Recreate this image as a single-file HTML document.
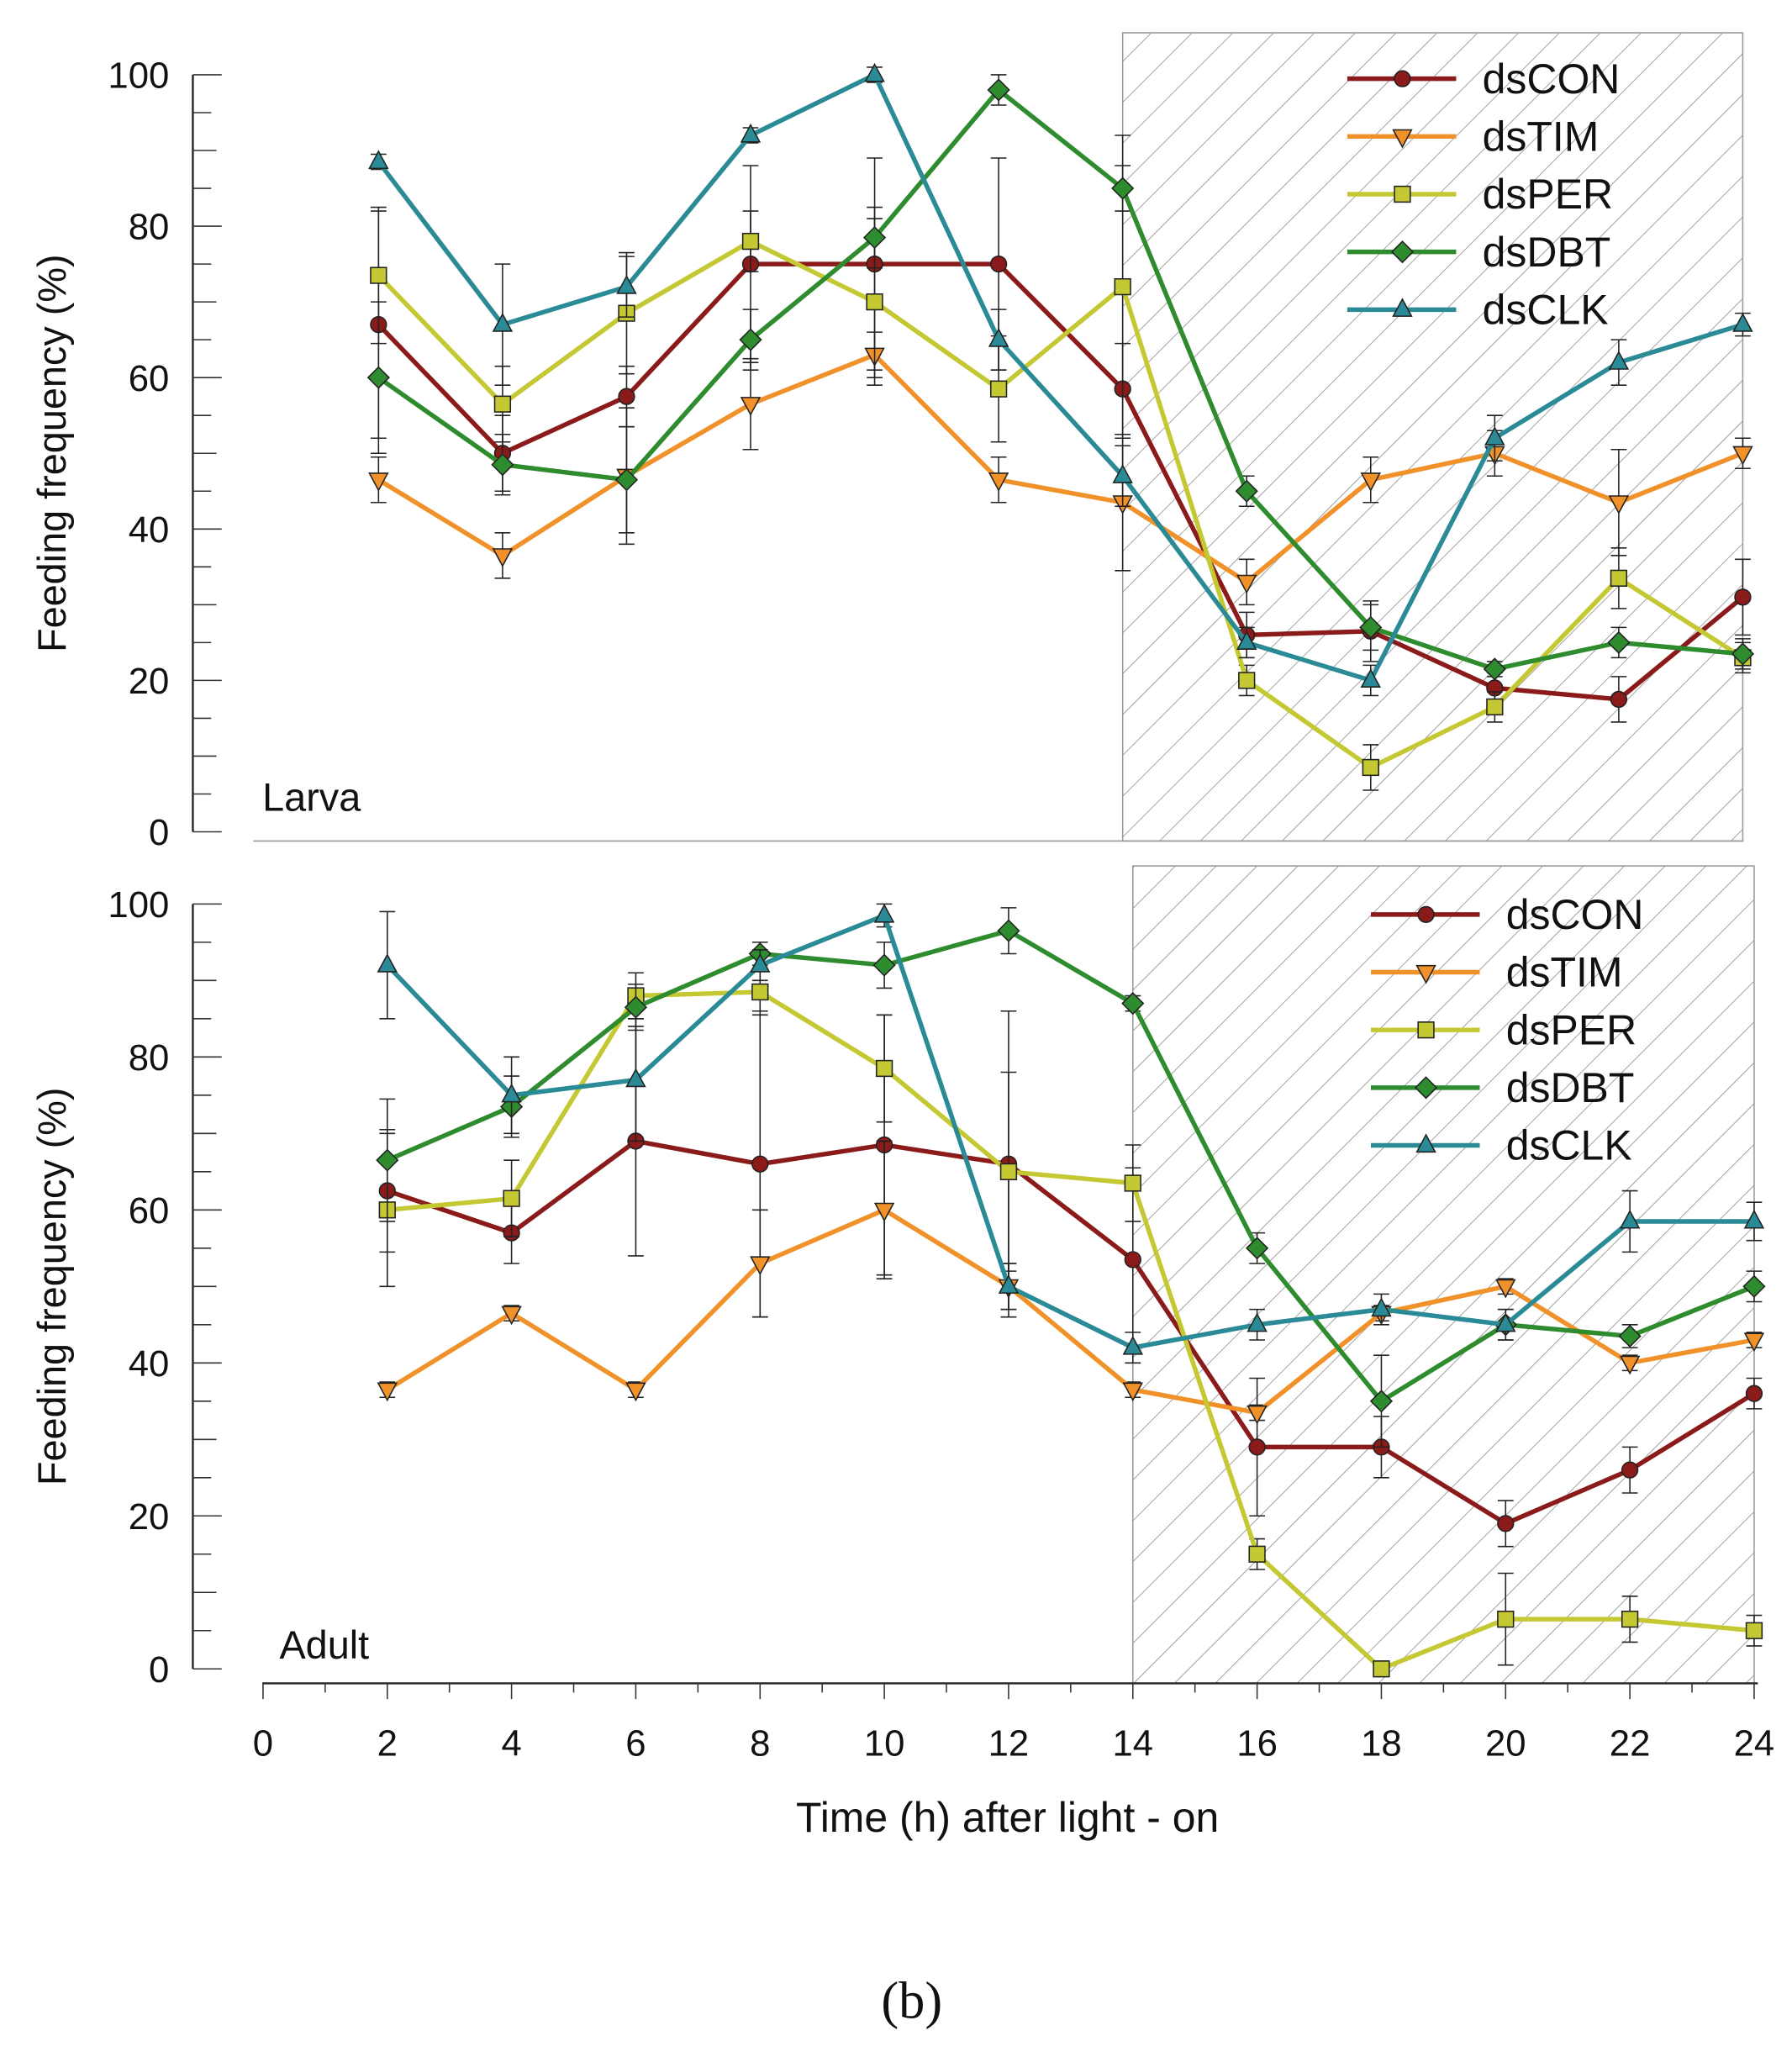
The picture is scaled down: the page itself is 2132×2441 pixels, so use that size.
<!DOCTYPE html>
<html><head><meta charset="utf-8"><style>
html,body{margin:0;padding:0;background:#fff}
svg{display:block}
text{font-family:"Liberation Sans",sans-serif;fill:#111}
</style></head><body>
<svg id="chart" xmlns="http://www.w3.org/2000/svg" width="2132" height="2441" viewBox="0 0 1366 1564" preserveAspectRatio="none">
<defs>
<pattern id="hatch" patternUnits="userSpaceOnUse" width="22" height="22" patternTransform="rotate(45)">
<line x1="0" y1="0" x2="0" y2="22" stroke="#888" stroke-width="1"/>
</pattern>
</defs>
<g id="root"></g>
<text x="695" y="1538" text-anchor="middle" font-size="40" style="font-family:'Liberation Serif',serif">(b)</text>
</svg>
<script>
const hours=[2,4,6,8,10,12,14,16,18,20,22,24];
const seriesNames=["dsCON","dsTIM","dsPER","dsDBT","dsCLK"];
const colors=["#8b1a1a","#f0912a","#c4c832","#2e8b2e","#2a8a95"];
const markers=["circle","tri-down","square","diamond","tri-up"];
const yTicks=[0,20,40,60,80,100];
const xTicks=[0,2,4,6,8,10,12,14,16,18,20,22,24];
// Larva
const larvaCON=[67,50,57.5,75,75,75,58.5,26,26.5,19,17.5,31];
const larvaTIM=[46.5,36.5,47,56.5,63,46.5,43.5,33,46.5,50,43.5,50];
const larvaPER=[73.5,56.5,68.5,78,70,58.5,72,20,8.5,16.5,33.5,23];
const larvaDBT=[60,48.5,46.5,65,78.5,98,85,45,27,21.5,25,23.5];
const larvaCLK=[88.5,67,72,92,100,65,47,25,20,52,62,67];
const larvaErr=[
[15,5,4,13,14,14,6,3,4,2,3,5],
[3,3,9,6,3,3,9,3,3,3,7,2],
[9,5,8,4,11,7,20,2,3,2,4,2],
[10,4,7,4,4,2,3,2,3,1,2,2],
[1,8,4,1,1,4,4,2,2,3,3,1.5]];
// Adult
const adultCON=[62.5,57,69,66,68.5,66,53.5,29,29,19,26,36];
const adultTIM=[36.5,46.5,36.5,53,60,50,36.5,33.5,46.5,50,40,43];
const adultPER=[60,61.5,88,88.5,78.5,65,63.5,15,0,6.5,6.5,5];
const adultDBT=[66.5,73.5,86.5,93.5,92,96.5,87,55,35,45,43.5,50];
const adultCLK=[92,75,77,92,98.5,50,42,45,47,45,58.5,58.5];
const adultErr=[
[8,4,15,20,17,20,12,9,4,3,3,2],
[1,1,1,7,9,3,1,1,1,1,1,1],
[10,5,3,3,7,13,5,2,1,6,3,2],
[8,4,3,1.5,3,3,1,2,6,2,1.5,2],
[7,5,8,2,1.5,3,2,2,2,2,4,2.5]];

const NS="http://www.w3.org/2000/svg";
const root=document.getElementById('root');
function el(tag,attrs,parent){const e=document.createElementNS(NS,tag);for(const k in attrs)e.setAttribute(k,attrs[k]);(parent||root).appendChild(e);return e;}

function marker(type,x,y,c,p){
  const a={fill:c,stroke:'#222','stroke-width':1};const s=6;
  if(type==='circle')return el('circle',Object.assign({cx:x,cy:y,r:s},a),p);
  if(type==='square')return el('rect',Object.assign({x:x-s,y:y-s,width:2*s,height:2*s},a),p);
  if(type==='diamond')return el('polygon',Object.assign({points:`${x},${y-8} ${x+8},${y} ${x},${y+8} ${x-8},${y}`},a),p);
  if(type==='tri-up')return el('polygon',Object.assign({points:`${x},${y-8} ${x+7},${y+5} ${x-7},${y+5}`},a),p);
  return el('polygon',Object.assign({points:`${x},${y+8} ${x+7},${y-5} ${x-7},${y-5}`},a),p);
}

function panel(cfg,data,errs,pname){
  const g=el('g',{});
  
  
  const X=h=>cfg.x0+h*cfg.xs, Y=v=>cfg.y0-v*cfg.ys;
  const sh=el('rect',{x:X(14),y:cfg.hTop,width:X(24)-X(14),height:cfg.hBot-cfg.hTop,fill:'url(#hatch)',stroke:'#999','stroke-width':1},g);
  
  
  el('line',{x1:cfg.ax,y1:Y(100),x2:cfg.ax,y2:Y(0),stroke:'#222','stroke-width':1.5},g);
  for(let v=0;v<=100;v+=5){
    const major=v%20===0;
    el('line',{x1:cfg.ax,y1:Y(v),x2:cfg.ax+(major?22:(v%10===0?18:14)),y2:Y(v),stroke:'#333','stroke-width':1},g);
  }
  yTicks.forEach(v=>{const t=el('text',{x:cfg.ax-18,y:Y(v)+10,'text-anchor':'end','font-size':28},g);t.textContent=v;
    
    });
  const yt=el('text',{x:0,y:0,'text-anchor':'middle','font-size':30,transform:`translate(50,${(Y(0)+Y(100))/2}) rotate(-90)`},g);
  yt.textContent='Feeding frequency (%)';
  
  
  const pl=el('text',{x:cfg.labX,y:cfg.labY,'font-size':30},g);pl.textContent=cfg.label;
  
  
  data.forEach((vals,si)=>{
    const sg=el('g',{},g);
    
    
    vals.forEach((v,i)=>{const e=errs[si][i],x=X(hours[i]);
      el('line',{x1:x,y1:Y(v-e),x2:x,y2:Y(v+e),stroke:'#222','stroke-width':1},sg);
      el('line',{x1:x-6,y1:Y(v+e),x2:x+6,y2:Y(v+e),stroke:'#222','stroke-width':1},sg);
      el('line',{x1:x-6,y1:Y(v-e),x2:x+6,y2:Y(v-e),stroke:'#222','stroke-width':1},sg);
    });
    el('polyline',{points:vals.map((v,i)=>X(hours[i])+','+Y(v)).join(' '),fill:'none',stroke:colors[si],'stroke-width':3.5},sg);
    vals.forEach((v,i)=>{const m=marker(markers[si],X(hours[i]),Y(v),colors[si],sg);
      
      });
  });
  seriesNames.forEach((n,si)=>{
    const lg=el('g',{},g);
    
    
    const y=cfg.legY+si*44;
    el('line',{x1:cfg.legX,y1:y,x2:cfg.legX+83,y2:y,stroke:colors[si],'stroke-width':3.5},lg);
    marker(markers[si],cfg.legX+42,y,colors[si],lg);
    const t=el('text',{x:cfg.legX+103,y:y+11,'font-size':32},lg);t.textContent=n;
  });
  return {X,Y,g};
}
const larvaPanel=panel({x0:194,xs:47.27,y0:634,ys:5.77,ax:147,hTop:25,hBot:641,labX:200,labY:618,label:'Larva',legX:1027,legY:60},
  [larvaCON,larvaTIM,larvaPER,larvaDBT,larvaCLK],larvaErr,'larva');
el('line',{x1:193,y1:641,x2:1329,y2:641,stroke:'#999','stroke-width':1});
const adultPanel=panel({x0:200.5,xs:47.36,y0:1272,ys:5.83,ax:147,hTop:660,hBot:1283,labX:213,labY:1264,label:'Adult',legX:1045,legY:697},
  [adultCON,adultTIM,adultPER,adultDBT,adultCLK],adultErr,'adult');
el('line',{x1:200,y1:1283,x2:1340,y2:1283,stroke:'#222','stroke-width':1.5});
for(let h=0;h<=24;h+=1){el('line',{x1:adultPanel.X(h),y1:1283,x2:adultPanel.X(h),y2:1283+(h%2===0?12:7),stroke:'#333','stroke-width':1});}
xTicks.forEach(h=>{const t=el('text',{x:adultPanel.X(h),y:1338,'text-anchor':'middle','font-size':28});t.textContent=h;
  
  });
const xt=el('text',{x:768,y:1396,'text-anchor':'middle','font-size':32});xt.textContent='Time (h) after light - on';


</script>
</body></html>
